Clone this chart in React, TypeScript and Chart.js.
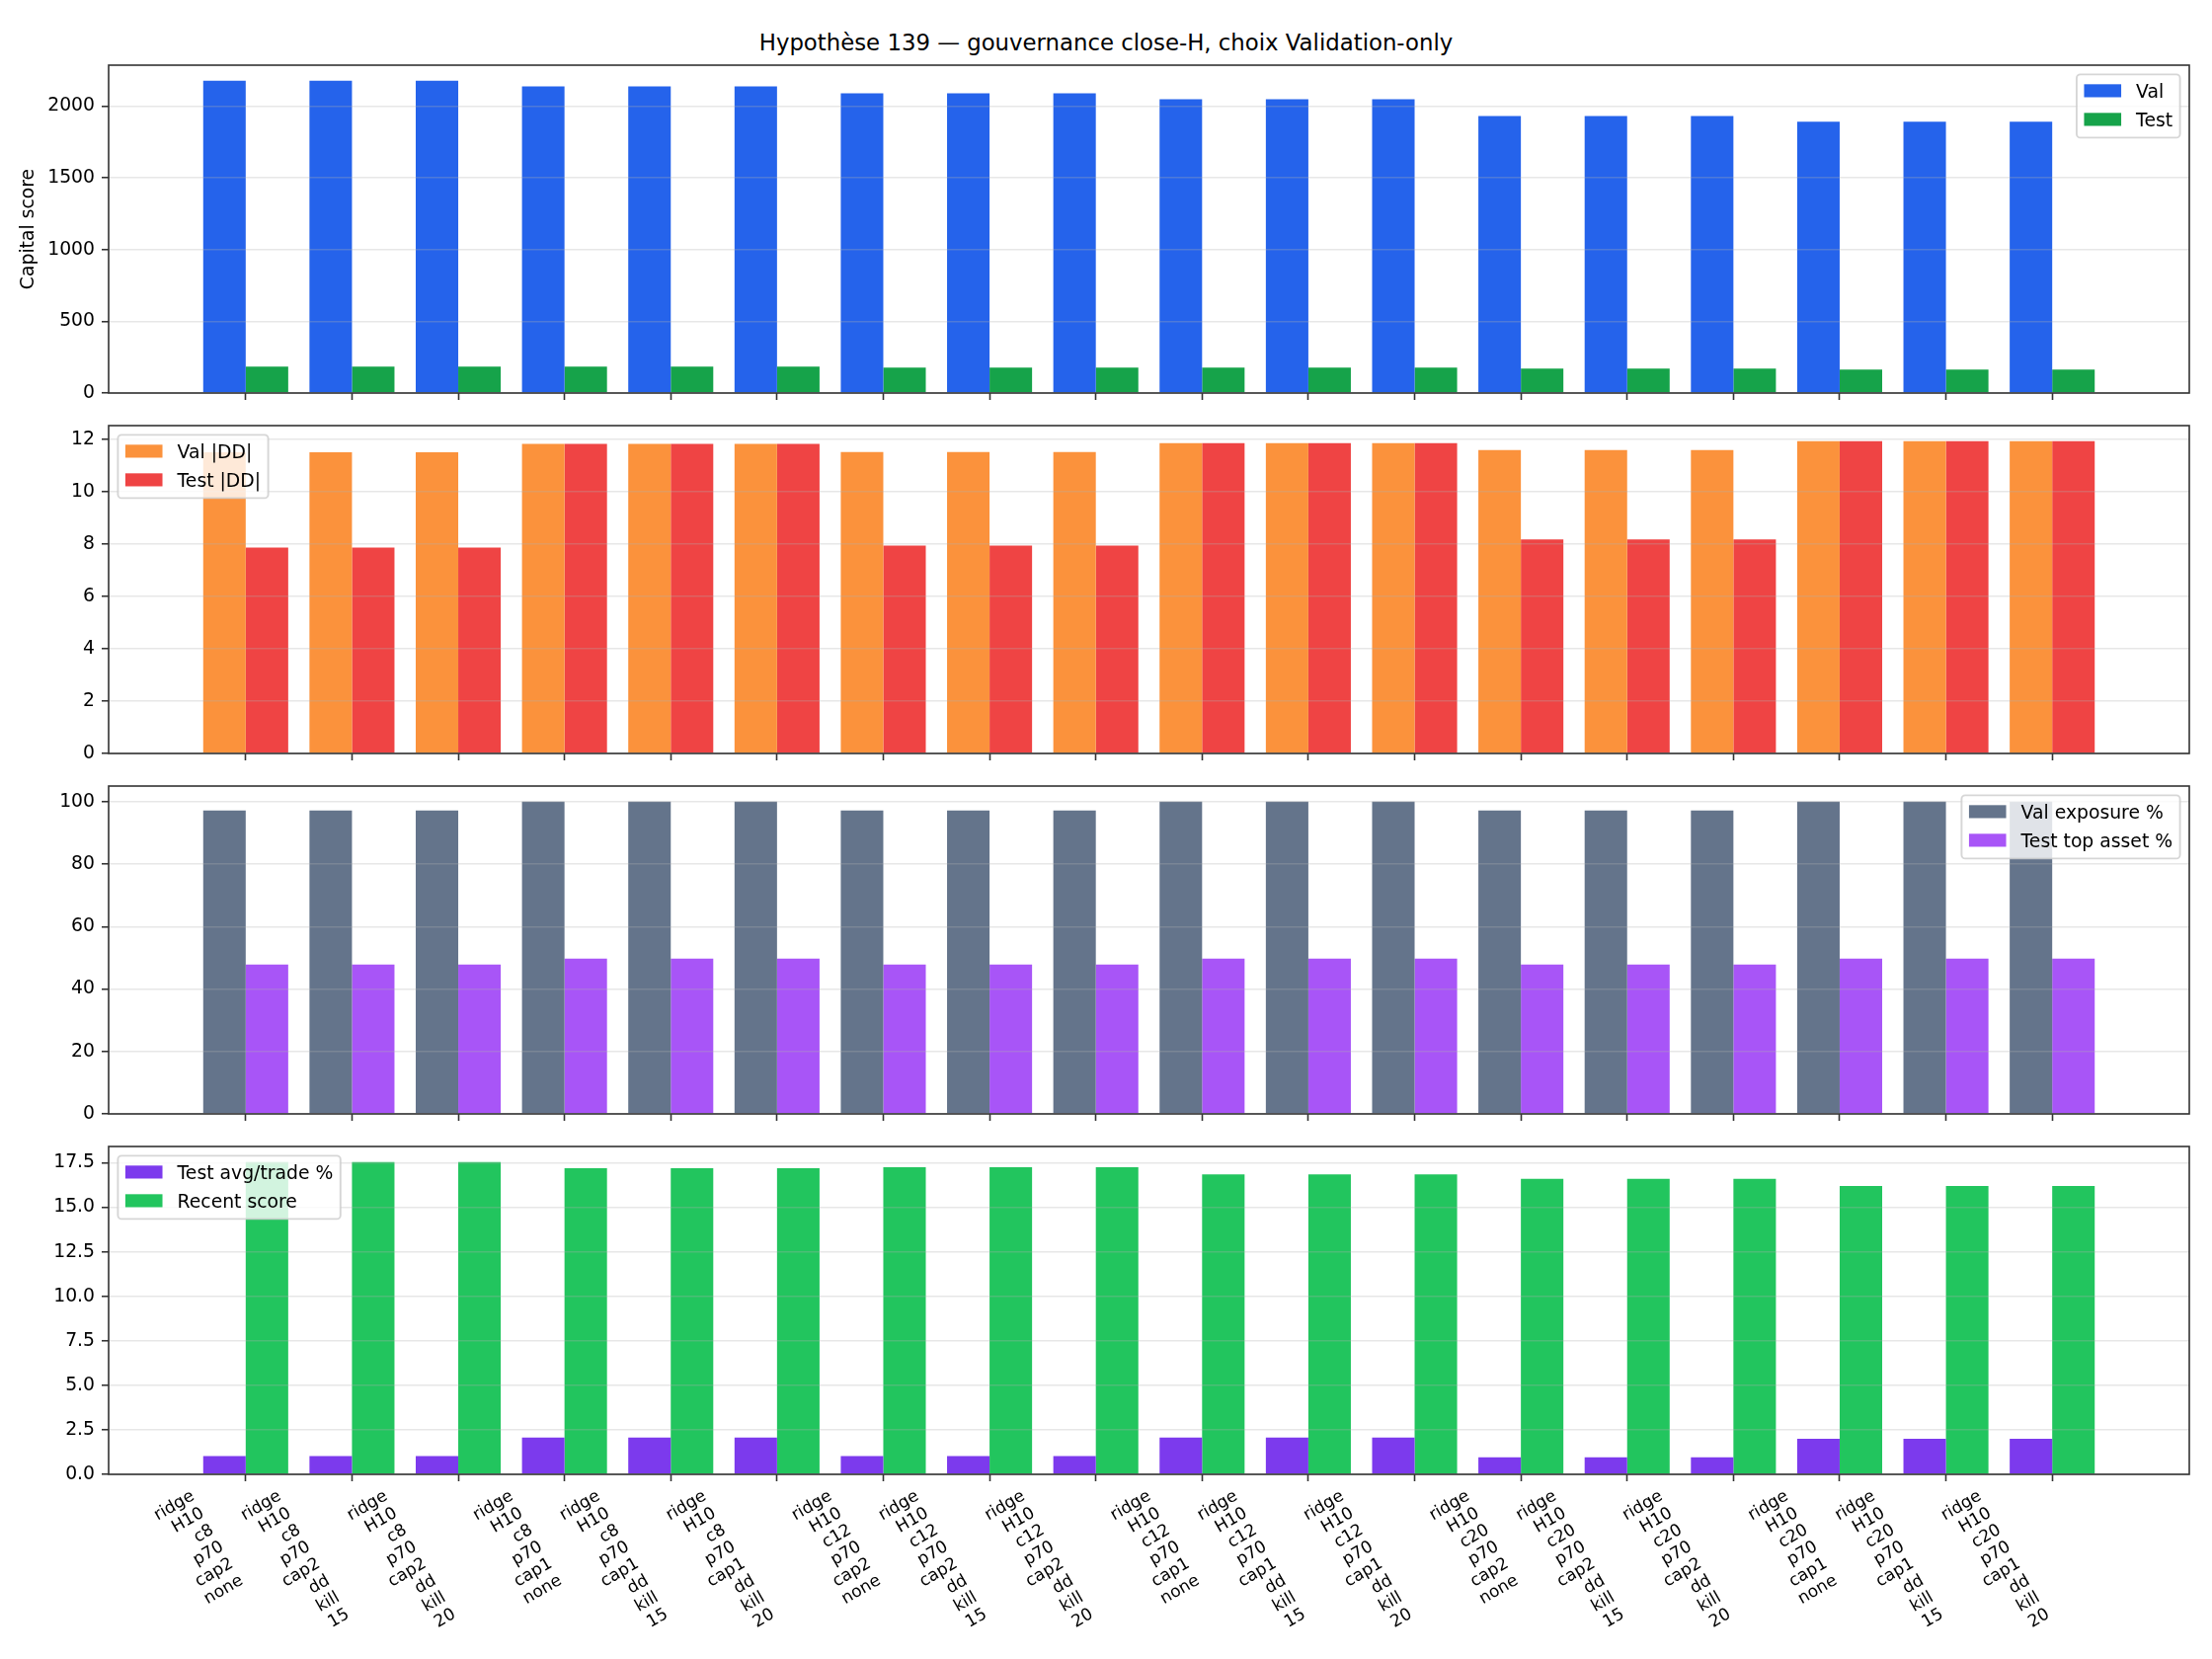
import { useEffect, useRef } from "react"
import { Chart, registerables } from "chart.js"

Chart.register(...registerables)

const FONT = "'DejaVu Sans', sans-serif"
Chart.defaults.font.family = FONT

const TITLE = "Hypothèse 139 — gouvernance close-H, choix Validation-only"

// run configs on the x axis, one line per part
const configs = [
  "ridge\nH10\nc8\np70\ncap2\nnone",
  "ridge\nH10\nc8\np70\ncap2\ndd\nkill\n15",
  "ridge\nH10\nc8\np70\ncap2\ndd\nkill\n20",
  "ridge\nH10\nc8\np70\ncap1\nnone",
  "ridge\nH10\nc8\np70\ncap1\ndd\nkill\n15",
  "ridge\nH10\nc8\np70\ncap1\ndd\nkill\n20",
  "ridge\nH10\nc12\np70\ncap2\nnone",
  "ridge\nH10\nc12\np70\ncap2\ndd\nkill\n15",
  "ridge\nH10\nc12\np70\ncap2\ndd\nkill\n20",
  "ridge\nH10\nc12\np70\ncap1\nnone",
  "ridge\nH10\nc12\np70\ncap1\ndd\nkill\n15",
  "ridge\nH10\nc12\np70\ncap1\ndd\nkill\n20",
  "ridge\nH10\nc20\np70\ncap2\nnone",
  "ridge\nH10\nc20\np70\ncap2\ndd\nkill\n15",
  "ridge\nH10\nc20\np70\ncap2\ndd\nkill\n20",
  "ridge\nH10\nc20\np70\ncap1\nnone",
  "ridge\nH10\nc20\np70\ncap1\ndd\nkill\n15",
  "ridge\nH10\nc20\np70\ncap1\ndd\nkill\n20",
]

const capitalVal = [2177, 2177, 2177, 2138, 2138, 2138, 2089, 2089, 2089, 2048, 2048, 2048, 1931, 1931, 1931, 1892, 1892, 1892]
const capitalTest = [184, 184, 184, 184, 184, 184, 177, 177, 177, 177, 177, 177, 170, 170, 170, 163, 163, 163]

const valDD = [11.5, 11.5, 11.5, 11.82, 11.82, 11.82, 11.51, 11.51, 11.51, 11.85, 11.85, 11.85, 11.58, 11.58, 11.58, 11.92, 11.92, 11.92]
const testDD = [7.86, 7.86, 7.86, 11.82, 11.82, 11.82, 7.94, 7.94, 7.94, 11.85, 11.85, 11.85, 8.17, 8.17, 8.17, 11.92, 11.92, 11.92]

const valExposure = [97.2, 97.2, 97.2, 100, 100, 100, 97.2, 97.2, 97.2, 100, 100, 100, 97.2, 97.2, 97.2, 100, 100, 100]
const testTopAsset = [47.8, 47.8, 47.8, 49.7, 49.7, 49.7, 47.8, 47.8, 47.8, 49.7, 49.7, 49.7, 47.8, 47.8, 47.8, 49.7, 49.7, 49.7]

const testAvgTrade = [1.02, 1.02, 1.02, 2.07, 2.07, 2.07, 1.02, 1.02, 1.02, 2.07, 2.07, 2.07, 0.95, 0.95, 0.95, 2.0, 2.0, 2.0]
const recentScore = [17.54, 17.54, 17.54, 17.2, 17.2, 17.2, 17.25, 17.25, 17.25, 16.85, 16.85, 16.85, 16.6, 16.6, 16.6, 16.2, 16.2, 16.2]

const capitalTicks = [0, 500, 1000, 1500, 2000]
const ddTicks = [0, 2, 4, 6, 8, 10, 12]
const exposureTicks = [0, 20, 40, 60, 80, 100]
const scoreTicks = [0, 2.5, 5, 7.5, 10, 12.5, 15, 17.5]

// figure geometry (px)
const FIG_W = 2240
const FIG_H = 1680
const AX_LEFT = 110
const AX_RIGHT = 2217
const PANEL_TOP = 66
const PANEL_STEP = 365
const PANEL_H = 332
const PAD_TOP = 20
const SPINE = "#333333"
const FS = 18.8

type Series = { label: string; values: number[]; color: string }

type PanelProps = {
  index: number
  series: Series[]
  ticks: number[]
  digits: number
  legend: "left" | "right"
  yTitle?: string
  xLabels?: boolean
}

const framePlugin = {
  id: "frame",
  afterDraw(chart: any) {
    const { ctx, chartArea: a } = chart
    ctx.save()
    ctx.strokeStyle = SPINE
    ctx.lineWidth = 1.6
    ctx.strokeRect(a.left, a.top, a.right - a.left, a.bottom - a.top)
    ctx.restore()
  },
}

function legendPlugin(loc: "left" | "right") {
  return {
    id: "boxLegend",
    afterDraw(chart: any) {
      const { ctx, chartArea: a } = chart
      const items = chart.data.datasets.map((d: any) => ({ label: d.label, color: d.backgroundColor }))
      ctx.save()
      ctx.font = `${FS}px ${FONT}`
      const textW = Math.max(...items.map((it: any) => ctx.measureText(it.label).width))
      const pad = 0.4 * FS
      const handle = 2 * FS
      const gap = 0.8 * FS
      const w = pad + handle + gap + textW + pad
      const h = 16.5 + 29 * (items.length - 1) + 18.5
      const x = loc === "right" ? a.right - 0.5 * FS - w : a.left + 0.5 * FS
      const y = a.top + 0.5 * FS
      ctx.beginPath()
      ctx.roundRect(x, y, w, h, 0.2 * FS)
      ctx.fillStyle = "rgba(255,255,255,0.8)"
      ctx.fill()
      ctx.strokeStyle = "rgba(204,204,204,0.8)"
      ctx.lineWidth = 1.9
      ctx.stroke()
      items.forEach((it: any, i: number) => {
        const cy = y + 16.5 + 29 * i
        ctx.fillStyle = it.color
        ctx.fillRect(x + pad, cy - 0.35 * FS, handle, 0.7 * FS)
        ctx.fillStyle = "#000"
        ctx.textAlign = "left"
        ctx.textBaseline = "alphabetic"
        ctx.fillText(it.label, x + pad + handle + gap, cy + 0.3645 * FS)
      })
      ctx.restore()
    },
  }
}

// rotated multi-line labels, right/top aligned on the tick like matplotlib
const configLabelsPlugin = {
  id: "configLabels",
  afterDraw(chart: any) {
    const { ctx, chartArea: a } = chart
    const xScale = chart.scales.x
    const fs = 17
    const step = 1.16 * fs
    const theta = Math.PI / 6
    const c = Math.cos(theta)
    const s = Math.sin(theta)
    ctx.save()
    ctx.font = `${fs}px ${FONT}`
    ctx.fillStyle = "#000"
    ctx.textAlign = "right"
    ctx.textBaseline = "alphabetic"
    configs.forEach((cfg, i) => {
      const lines = cfg.split("\n")
      const W = Math.max(...lines.map((l) => ctx.measureText(l).width))
      const H = (lines.length - 1) * step + 0.968 * fs
      const ax = xScale.getPixelForValue(i)
      const ay = a.bottom + 7 + 6.7
      ctx.save()
      ctx.translate(ax - (W * c + H * s), ay + W * s)
      ctx.rotate(-theta)
      lines.forEach((l, j) => ctx.fillText(l, W, j * step + 0.76 * fs))
      ctx.restore()
    })
    ctx.restore()
  },
}

function Panel({ index, series, ticks, digits, legend, yTitle, xLabels }: PanelProps) {
  const chartRef = useRef<HTMLCanvasElement>(null)
  const chartInstance = useRef<Chart | null>(null)

  const axisH = xLabels ? 180 : 20
  const top = PANEL_TOP + PANEL_STEP * index - PAD_TOP
  const height = PAD_TOP + PANEL_H + axisH

  useEffect(() => {
    if (!chartRef.current) return
    if (chartInstance.current) chartInstance.current.destroy()

    const n = configs.length
    const span = n - 1 + 0.8
    const xMin = -0.4 - 0.05 * span
    const xMax = n - 1 + 0.4 + 0.05 * span
    const yMax = 1.05 * Math.max(...series.flatMap((s) => s.values))

    chartInstance.current = new Chart(chartRef.current, {
      type: "bar",
      data: {
        datasets: series.map((s) => ({
          label: s.label,
          data: s.values.map((v, i) => ({ x: i, y: v })),
          backgroundColor: s.color,
          borderWidth: 0,
          categoryPercentage: 0.8,
          barPercentage: 1,
        })),
      },
      options: {
        animation: false,
        responsive: true,
        maintainAspectRatio: false,
        events: [],
        layout: { padding: { top: PAD_TOP, right: FIG_W - AX_RIGHT, bottom: 0, left: 0 } },
        scales: {
          x: {
            type: "linear",
            min: xMin,
            max: xMax,
            offset: false,
            afterBuildTicks: (scale: any) => {
              scale.ticks = configs.map((_, i) => ({ value: i }))
            },
            afterFit: (scale: any) => {
              scale.height = axisH
            },
            ticks: { display: false },
            grid: {
              offset: false,
              drawOnChartArea: false,
              drawTicks: true,
              tickLength: 7,
              tickWidth: 1.6,
              tickColor: SPINE,
            },
            border: { display: false },
          },
          y: {
            min: 0,
            max: yMax,
            afterBuildTicks: (scale: any) => {
              scale.ticks = ticks.map((v) => ({ value: v }))
            },
            afterFit: (scale: any) => {
              scale.width = AX_LEFT
            },
            ticks: {
              padding: 7,
              color: "#000",
              font: { family: FONT, size: FS },
              callback: (v: any) => Number(v).toFixed(digits),
            },
            grid: {
              z: 1,
              color: "rgba(176,176,176,0.3)",
              lineWidth: 1.5,
              drawTicks: true,
              tickLength: 7,
              tickWidth: 1.6,
              tickColor: SPINE,
            },
            border: { display: false },
            title: yTitle
              ? {
                  display: true,
                  text: yTitle,
                  color: "#000",
                  font: { family: FONT, size: FS },
                  padding: { top: 18.3, bottom: 0 },
                }
              : { display: false },
          },
        },
        plugins: {
          legend: { display: false },
          tooltip: { enabled: false },
        },
      } as any,
      plugins: [framePlugin, legendPlugin(legend), ...(xLabels ? [configLabelsPlugin] : [])],
    })

    return () => {
      if (chartInstance.current) {
        chartInstance.current.destroy()
        chartInstance.current = null
      }
    }
  }, [])

  return (
    <div style={{ position: "absolute", left: 0, top, width: FIG_W, height }}>
      <canvas ref={chartRef} />
    </div>
  )
}

export default function App() {
  return (
    <div
      style={{
        position: "absolute",
        left: 0,
        top: 0,
        width: FIG_W,
        height: FIG_H,
        background: "#fff",
        overflow: "hidden",
      }}
    >
      <div
        style={{
          position: "absolute",
          left: 0,
          top: 29,
          width: FIG_W,
          textAlign: "center",
          fontFamily: FONT,
          fontSize: 22.8,
          lineHeight: "28px",
          color: "#000",
          whiteSpace: "nowrap",
        }}
      >
        {TITLE}
      </div>
      <Panel
        index={0}
        series={[
          { label: "Val", values: capitalVal, color: "#2563eb" },
          { label: "Test", values: capitalTest, color: "#16a34a" },
        ]}
        ticks={capitalTicks}
        digits={0}
        legend="right"
        yTitle="Capital score"
      />
      <Panel
        index={1}
        series={[
          { label: "Val |DD|", values: valDD, color: "#fb923c" },
          { label: "Test |DD|", values: testDD, color: "#ef4444" },
        ]}
        ticks={ddTicks}
        digits={0}
        legend="left"
      />
      <Panel
        index={2}
        series={[
          { label: "Val exposure %", values: valExposure, color: "#64748b" },
          { label: "Test top asset %", values: testTopAsset, color: "#a855f7" },
        ]}
        ticks={exposureTicks}
        digits={0}
        legend="right"
      />
      <Panel
        index={3}
        series={[
          { label: "Test avg/trade %", values: testAvgTrade, color: "#7c3aed" },
          { label: "Recent score", values: recentScore, color: "#22c55e" },
        ]}
        ticks={scoreTicks}
        digits={1}
        legend="left"
        xLabels
      />
    </div>
  )
}
